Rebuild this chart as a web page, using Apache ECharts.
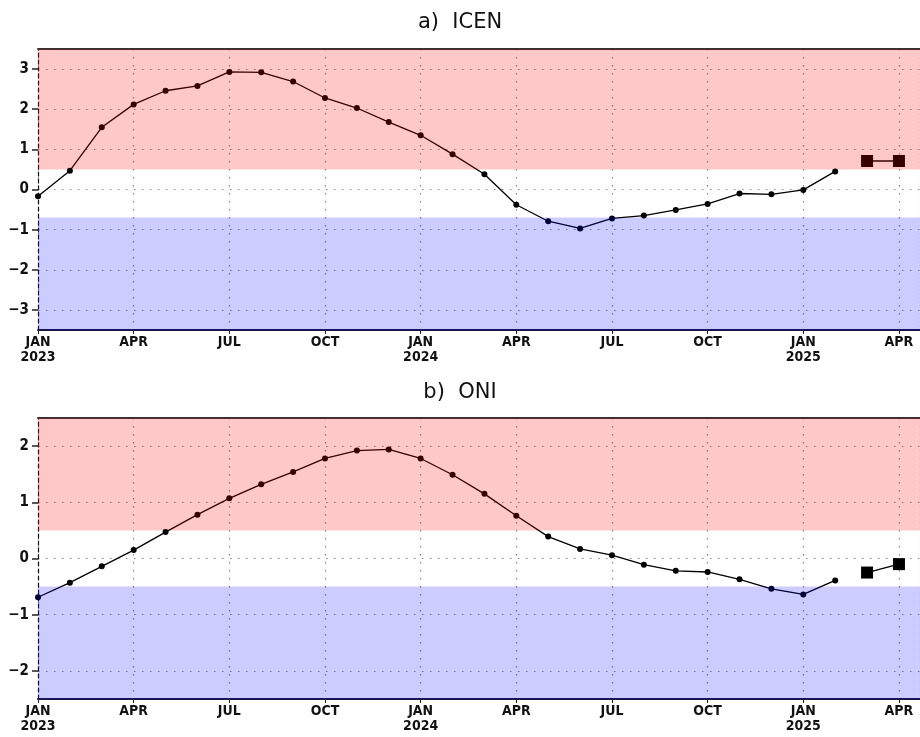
<!DOCTYPE html>
<html>
<head>
<meta charset="utf-8">
<script src="https://cdn.jsdelivr.net/npm/echarts@6/dist/echarts.min.js"></script>
<style>
  html, body { margin: 0; padding: 0; background: #fff; }
  #chart { width: 920px; height: 737px; }
</style>
</head>
<body>
<div id="chart"></div>
<script>
// month index 0 = JAN 2023
const tickLabels = ['JAN\n2023', 'APR', 'JUL', 'OCT', 'JAN\n2024', 'APR', 'JUL', 'OCT', 'JAN\n2025', 'APR'];
const icenTicks = [-3, -2, -1, 0, 1, 2, 3];
const oniTicks = [-2, -1, 0, 1, 2];

// a) ICEN, observed JAN 2023 .. FEB 2025
const icenObs = [-0.17, 0.47, 1.55, 2.12, 2.46, 2.58, 2.93, 2.92, 2.69, 2.28, 2.03, 1.68,
                 1.35, 0.88, 0.38, -0.38, -0.79, -0.97, -0.72, -0.65, -0.51, -0.36, -0.10, -0.12,
                 -0.01, 0.45];
// forecast MAR, APR 2025
const icenFcst = [0.71, 0.71];

// b) ONI, observed JAN 2023 .. FEB 2025
const oniObs = [-0.69, -0.43, -0.14, 0.15, 0.47, 0.78, 1.07, 1.32, 1.54, 1.78, 1.92, 1.94,
                1.78, 1.49, 1.15, 0.76, 0.39, 0.17, 0.06, -0.11, -0.22, -0.24, -0.37, -0.54,
                -0.64, -0.39];
const oniFcst = [-0.25, -0.10];

const icenBands = [0.5, -0.7];
const oniBands = [0.5, -0.5];

function pts(arr, start) {
  return arr.map((v, i) => [start + i, v]);
}

const labelFont = "'DejaVu Sans Condensed', 'Liberation Sans Narrow', sans-serif";
const dotted = { color: '#888', type: [1.5, 6.5], width: 1.2 };

function bandArea(top, warm, cold, bottom) {
  return {
    silent: true,
    data: [
      [{ yAxis: warm, itemStyle: { color: 'rgba(255,0,0,0.215)' } }, { yAxis: top }],
      [{ yAxis: bottom, itemStyle: { color: 'rgba(0,0,255,0.2)' } }, { yAxis: cold }]
    ]
  };
}

function xAxes(gi) {
  return [{
    gridIndex: gi, type: 'value', min: 0, max: 27.66, interval: 3,
    axisLine: { onZero: false, lineStyle: { color: '#1a1a40', width: 2 } },
    axisTick: { length: 4, lineStyle: { color: '#222' } },
    axisLabel: {
      margin: 5, color: '#111', fontFamily: labelFont, fontWeight: 'bold', fontSize: 14, lineHeight: 15,
      showMaxLabel: false,
      formatter: v => tickLabels[Math.round(v / 3)] || ''
    },
    splitLine: { show: true, lineStyle: dotted }
  }, {
    gridIndex: gi, type: 'value', position: 'top', min: 0, max: 27.66,
    axisLine: { onZero: false, lineStyle: { color: '#333', width: 2 } },
    axisTick: { show: false }, axisLabel: { show: false }, splitLine: { show: false }
  }];
}

function yAxis(gi, lim, ticks) {
  return {
    gridIndex: gi, type: 'value', min: -lim, max: lim,
    axisLine: { show: true, onZero: false, lineStyle: { color: '#111', type: [4, 3], width: 1.2 } },
    axisTick: { show: true, length: 6, customValues: ticks, lineStyle: { color: '#222', width: 1.5 } },
    axisLabel: {
      margin: 9, color: '#111', fontFamily: labelFont, fontWeight: 'bold', fontSize: 15,
      customValues: ticks,
      formatter: v => String(v).replace('-', '\u2212')
    },
    splitLine: { show: true, lineStyle: dotted }
  };
}

function lineSeries(xi, yi, data, area) {
  const s = {
    type: 'line', xAxisIndex: xi, yAxisIndex: yi, data: data,
    symbol: 'circle', symbolSize: 6,
    lineStyle: { width: 1.3 }, animation: false
  };
  if (area) s.markArea = area;
  return s;
}

function fcstSeries(xi, yi, data) {
  return {
    type: 'line', xAxisIndex: xi, yAxisIndex: yi, data: data,
    symbol: 'rect', symbolSize: 12,
    lineStyle: { width: 1.3 }, animation: false
  };
}

function pieces(warm, cold) {
  return [
    { gt: warm, color: '#360000' },
    { gte: cold, lte: warm, color: '#000000' },
    { lt: cold, color: '#000036' }
  ];
}

const chart = echarts.init(document.getElementById('chart'));
chart.setOption({
  backgroundColor: '#fff',
  title: [
    { text: 'a)  ICEN', left: 'center', top: 7,
      textStyle: { fontFamily: "'DejaVu Sans', sans-serif", fontWeight: 'normal', fontSize: 21, color: '#111' } },
    { text: 'b)  ONI', left: 'center', top: 377,
      textStyle: { fontFamily: "'DejaVu Sans', sans-serif", fontWeight: 'normal', fontSize: 21, color: '#111' } }
  ],
  grid: [
    { left: 38, top: 49, width: 882, height: 281 },
    { left: 38, top: 418, width: 882, height: 281 }
  ],
  xAxis: [...xAxes(0), ...xAxes(1)],
  yAxis: [yAxis(0, 3.5, icenTicks), yAxis(1, 2.5, oniTicks)],
  visualMap: [
    { type: 'piecewise', show: false, dimension: 1, seriesIndex: [0, 1], pieces: pieces(icenBands[0], icenBands[1]) },
    { type: 'piecewise', show: false, dimension: 1, seriesIndex: [2, 3], pieces: pieces(oniBands[0], oniBands[1]) }
  ],
  series: [
    lineSeries(0, 0, pts(icenObs, 0), bandArea(3.5, icenBands[0], icenBands[1], -3.5)),
    fcstSeries(0, 0, pts(icenFcst, 26)),
    lineSeries(2, 1, pts(oniObs, 0), bandArea(2.5, oniBands[0], oniBands[1], -2.5)),
    fcstSeries(2, 1, pts(oniFcst, 26))
  ]
});
</script>
</body>
</html>
